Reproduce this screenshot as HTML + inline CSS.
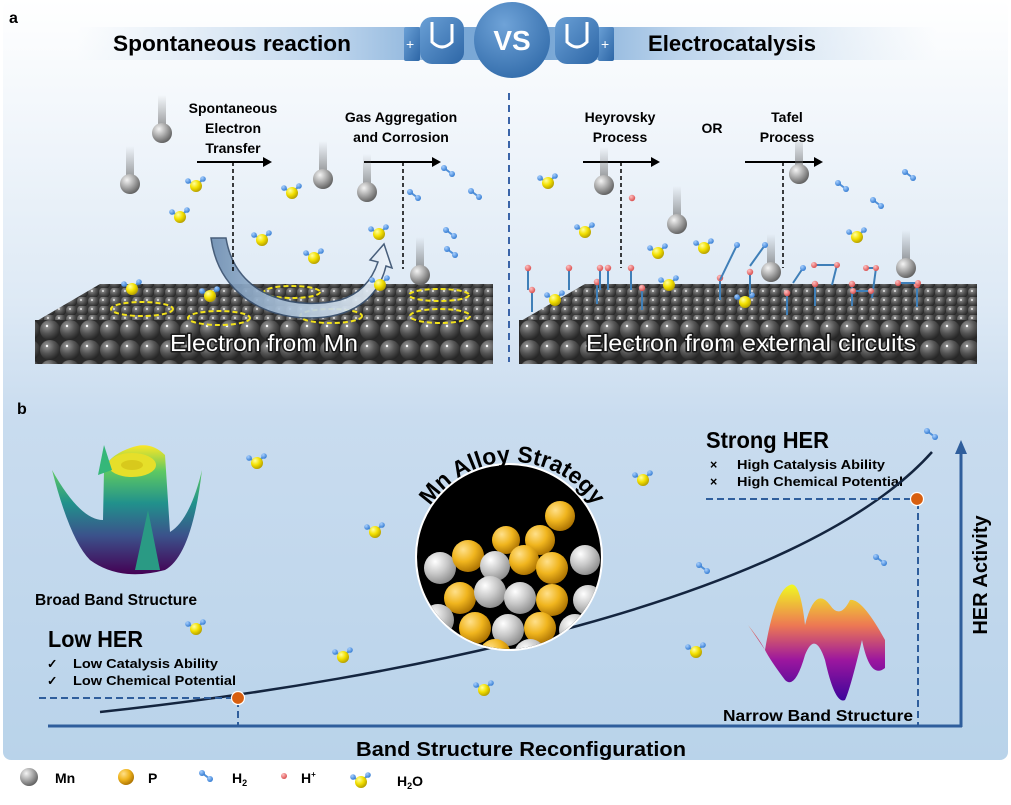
<!DOCTYPE html>
<html><head><meta charset="utf-8"><style>
html,body{margin:0;padding:0;background:#fff;}
svg{display:block;font-family:"Liberation Sans",sans-serif;}
</style></head><body>
<svg width="1011" height="805" viewBox="0 0 1011 805" xmlns="http://www.w3.org/2000/svg">
<defs>
<linearGradient id="bg" x1="0" y1="0" x2="0" y2="1">
<stop offset="0" stop-color="#ffffff"/><stop offset="0.4" stop-color="#dde9f5"/><stop offset="0.55" stop-color="#c9dcef"/><stop offset="1" stop-color="#b9d3ea"/>
</linearGradient>
<linearGradient id="bar" x1="0" y1="0" x2="1" y2="0">
<stop offset="0" stop-color="#cfe0f0" stop-opacity="0"/><stop offset="0.3" stop-color="#bcd4ec"/><stop offset="0.45" stop-color="#7aa8d6"/><stop offset="0.55" stop-color="#7aa8d6"/><stop offset="0.7" stop-color="#bcd4ec"/><stop offset="1" stop-color="#cfe0f0" stop-opacity="0"/>
</linearGradient>
<radialGradient id="vs" cx="0.4" cy="0.3" r="0.8"><stop offset="0" stop-color="#6fa3d8"/><stop offset="1" stop-color="#2f69a8"/></radialGradient>
<linearGradient id="glove" x1="0" y1="0" x2="1" y2="1"><stop offset="0" stop-color="#6aa0d6"/><stop offset="1" stop-color="#2d66a6"/></linearGradient>
<radialGradient id="mn" cx="0.35" cy="0.3" r="0.75"><stop offset="0" stop-color="#f4f4f4"/><stop offset="0.5" stop-color="#a9a9a9"/><stop offset="1" stop-color="#5c5c5c"/></radialGradient>
<radialGradient id="slab" cx="0.35" cy="0.3" r="0.75"><stop offset="0" stop-color="#9a9a9a"/><stop offset="0.5" stop-color="#555"/><stop offset="1" stop-color="#222"/></radialGradient>
<radialGradient id="p" cx="0.35" cy="0.3" r="0.75"><stop offset="0" stop-color="#ffffa0"/><stop offset="0.5" stop-color="#f3e000"/><stop offset="1" stop-color="#b09a00"/></radialGradient>
<radialGradient id="pg" cx="0.35" cy="0.3" r="0.75"><stop offset="0" stop-color="#ffe08a"/><stop offset="0.5" stop-color="#f0b51e"/><stop offset="1" stop-color="#a86f00"/></radialGradient>
<radialGradient id="gr" cx="0.35" cy="0.3" r="0.75"><stop offset="0" stop-color="#ffffff"/><stop offset="0.5" stop-color="#c9c9c9"/><stop offset="1" stop-color="#8a8a8a"/></radialGradient>
<radialGradient id="hb" cx="0.35" cy="0.3" r="0.75"><stop offset="0" stop-color="#a8d0ff"/><stop offset="1" stop-color="#2f78d0"/></radialGradient>
<radialGradient id="hr" cx="0.35" cy="0.3" r="0.75"><stop offset="0" stop-color="#ffc0c0"/><stop offset="1" stop-color="#d84a4a"/></radialGradient>
<linearGradient id="tail" x1="0" y1="0" x2="0" y2="1"><stop offset="0" stop-color="#777" stop-opacity="0"/><stop offset="1" stop-color="#666" stop-opacity="0.7"/></linearGradient>
<linearGradient id="bigarrow" x1="0" y1="0" x2="1" y2="0"><stop offset="0" stop-color="#6f8fb2"/><stop offset="0.5" stop-color="#b8cde2"/><stop offset="1" stop-color="#eef4fa"/></linearGradient>
<linearGradient id="vir" x1="0" y1="1" x2="0" y2="0"><stop offset="0" stop-color="#440154"/><stop offset="0.3" stop-color="#3b528b"/><stop offset="0.55" stop-color="#21918c"/><stop offset="0.8" stop-color="#5ec962"/><stop offset="1" stop-color="#fde725"/></linearGradient>
<linearGradient id="plas" x1="0" y1="1" x2="0" y2="0"><stop offset="0" stop-color="#3d049b"/><stop offset="0.35" stop-color="#9c179e"/><stop offset="0.65" stop-color="#ed7953"/><stop offset="1" stop-color="#f0f921"/></linearGradient>
<pattern id="top" width="11" height="9" patternUnits="userSpaceOnUse"><rect width="11" height="9" fill="#3a3a3a"/><circle cx="5.5" cy="4.5" r="5.6" fill="url(#slab)"/><circle cx="4" cy="3" r="0.9" fill="#fff"/></pattern>
<pattern id="front" width="20" height="20" patternUnits="userSpaceOnUse"><rect width="20" height="20" fill="#2a2a2a"/><circle cx="10" cy="10" r="10" fill="url(#slab)"/><circle cx="7" cy="6" r="1.2" fill="#fff"/></pattern>
<g id="h2o"><line x1="0" y1="0" x2="-8" y2="-5" stroke="#4f8fd8" stroke-width="2"/><line x1="0" y1="0" x2="7" y2="-7" stroke="#4f8fd8" stroke-width="2"/><circle cx="-8" cy="-5" r="2.8" fill="url(#hb)"/><circle cx="7" cy="-7" r="2.8" fill="url(#hb)"/><circle r="6" fill="url(#p)"/></g>
<g id="h2"><line x1="-4" y1="-3" x2="4" y2="3" stroke="#4f8fd8" stroke-width="2"/><circle cx="-4" cy="-3" r="3" fill="url(#hb)"/><circle cx="4" cy="3" r="3" fill="url(#hb)"/></g>
<g id="mnb"><rect x="-4" y="-38" width="8" height="34" fill="url(#tail)"/><circle r="10" fill="url(#mn)"/></g>
<g id="stick"><line x1="0" y1="0" x2="0" y2="-22" stroke="#3f7fb8" stroke-width="2"/><circle cx="0" cy="-22" r="3.2" fill="url(#hr)"/></g>
</defs>

<rect x="0" y="0" width="1011" height="805" fill="#fff"/>
<rect x="3" y="0" width="1005" height="760" rx="8" fill="url(#bg)"/>

<text x="9" y="23" font-size="16" font-weight="bold">a</text>
<rect x="77" y="27" width="860" height="33" fill="url(#bar)"/>
<text x="113" y="51" font-size="22" font-weight="bold" textLength="238" lengthAdjust="spacingAndGlyphs">Spontaneous reaction</text>
<text x="648" y="51" font-size="22" font-weight="bold" textLength="168" lengthAdjust="spacingAndGlyphs">Electrocatalysis</text>
<rect x="404" y="27" width="16" height="34" rx="2" fill="url(#glove)"/><text x="406" y="49" font-size="14" fill="#fff">+</text>
<rect x="420" y="17" width="44" height="47" rx="12" fill="url(#glove)"/>
<path d="M432 22 v20 q10 10 20 0 v-18" stroke="#fff" stroke-width="3" fill="none"/>
<rect x="598" y="27" width="16" height="34" rx="2" fill="url(#glove)"/><text x="601" y="49" font-size="14" fill="#fff">+</text>
<rect x="555" y="17" width="44" height="47" rx="12" fill="url(#glove)"/>
<path d="M567 24 v18 q10 10 20 0 v-20" stroke="#fff" stroke-width="3" fill="none"/>
<circle cx="512" cy="40" r="38" fill="url(#vs)"/>
<text x="512" y="50" font-size="28" font-weight="bold" fill="#fff" text-anchor="middle">VS</text>

<line x1="509" y1="93" x2="509" y2="362" stroke="#3a64a8" stroke-width="2" stroke-dasharray="7,5"/>

<polygon points="100,284 493,284 493,322 35,322" fill="url(#top)"/>
<rect x="35" y="320" width="458" height="44" fill="url(#front)"/>
<polygon points="585,284 977,284 977,322 519,322" fill="url(#top)"/>
<rect x="519" y="320" width="458" height="44" fill="url(#front)"/>

<g fill="none" stroke="#f2e21a" stroke-width="2" stroke-dasharray="5,3">
<ellipse cx="142" cy="309" rx="31" ry="7"/><ellipse cx="219" cy="318" rx="31" ry="7"/>
<ellipse cx="292" cy="292" rx="28" ry="6"/><ellipse cx="331" cy="316" rx="31" ry="7"/>
<ellipse cx="439" cy="295" rx="30" ry="6"/><ellipse cx="440" cy="316" rx="30" ry="7"/>
</g>

<path d="M211 238 L226 238 C236 300 300 310 340 300 C360 294 372 280 378 262 L370 260 L384 244 L392 268 L386 266 C378 300 350 318 310 318 C260 318 218 290 211 238 Z" fill="url(#bigarrow)" stroke="#3b5270" stroke-width="1.5" opacity="0.92"/>

<g font-size="14" font-weight="bold" text-anchor="middle">
<text x="233" y="113">Spontaneous</text><text x="233" y="133">Electron</text><text x="233" y="153">Transfer</text>
<text x="401" y="122">Gas Aggregation</text><text x="401" y="142">and Corrosion</text>
<text x="620" y="122">Heyrovsky</text><text x="620" y="142">Process</text>
<text x="712" y="133">OR</text>
<text x="787" y="122">Tafel</text><text x="787" y="142">Process</text>
</g>
<g stroke="#000" stroke-width="2">
<line x1="197" y1="162" x2="266" y2="162"/><line x1="364" y1="162" x2="435" y2="162"/>
<line x1="583" y1="162" x2="654" y2="162"/><line x1="745" y1="162" x2="817" y2="162"/>
</g>
<g fill="#000"><polygon points="272,162 263,157 263,167"/><polygon points="441,162 432,157 432,167"/><polygon points="660,162 651,157 651,167"/><polygon points="823,162 814,157 814,167"/></g>
<g stroke="#000" stroke-width="1.5" stroke-dasharray="4,3">
<line x1="233" y1="162" x2="233" y2="273"/><line x1="403" y1="162" x2="403" y2="269"/>
<line x1="621" y1="162" x2="621" y2="268"/><line x1="783" y1="162" x2="783" y2="268"/>
</g>

<use href="#mnb" x="130" y="184"/><use href="#mnb" x="162" y="133"/><use href="#mnb" x="323" y="179"/><use href="#mnb" x="367" y="192"/><use href="#mnb" x="420" y="275"/>
<use href="#mnb" x="604" y="185"/><use href="#mnb" x="677" y="224"/><use href="#mnb" x="799" y="174"/><use href="#mnb" x="771" y="272"/><use href="#mnb" x="906" y="268"/>
<use href="#h2o" x="196" y="186"/><use href="#h2o" x="180" y="217"/><use href="#h2o" x="292" y="193"/><use href="#h2o" x="262" y="240"/><use href="#h2o" x="314" y="258"/>
<use href="#h2o" x="379" y="234"/><use href="#h2o" x="132" y="289"/><use href="#h2o" x="210" y="296"/><use href="#h2o" x="380" y="285"/>
<use href="#h2o" x="548" y="183"/><use href="#h2o" x="585" y="232"/><use href="#h2o" x="658" y="253"/><use href="#h2o" x="704" y="248"/><use href="#h2o" x="857" y="237"/><use href="#h2o" x="669" y="285"/><use href="#h2o" x="745" y="302"/><use href="#h2o" x="555" y="300"/>
<use href="#h2" x="448" y="171"/><use href="#h2" x="475" y="194"/><use href="#h2" x="414" y="195"/><use href="#h2" x="450" y="233"/><use href="#h2" x="451" y="252"/><use href="#h2" x="842" y="186"/><use href="#h2" x="877" y="203"/><use href="#h2" x="909" y="175"/>
<circle cx="632" cy="198" r="3.2" fill="url(#hr)"/>
<use href="#stick" x="528" y="290"/><use href="#stick" x="569" y="290"/><use href="#stick" x="597" y="304"/><use href="#stick" x="608" y="290"/><use href="#stick" x="631" y="290"/>
<use href="#stick" x="642" y="310"/><use href="#stick" x="532" y="312"/><use href="#stick" x="600" y="290"/><use href="#stick" x="720" y="300"/><use href="#stick" x="750" y="294"/>
<use href="#stick" x="787" y="315"/><use href="#stick" x="852" y="306"/><use href="#stick" x="917" y="307"/><use href="#stick" x="815" y="306"/>
<g stroke="#3f7fb8" stroke-width="2" fill="none">
<line x1="720" y1="280" x2="737" y2="245"/><line x1="750" y1="266" x2="765" y2="245"/><line x1="793" y1="283" x2="803" y2="268"/>
<path d="M814 265 h23 l-5 20"/><path d="M866 268 h10 l-4 30"/><path d="M853 291 h18"/><path d="M918 283 h-20"/>
</g>
<g fill="url(#hr)"><circle cx="814" cy="265" r="3"/><circle cx="837" cy="265" r="3"/><circle cx="866" cy="268" r="3"/><circle cx="876" cy="268" r="3"/><circle cx="898" cy="283" r="3"/><circle cx="918" cy="283" r="3"/><circle cx="853" cy="291" r="3"/><circle cx="871" cy="291" r="3"/></g>
<g fill="url(#hb)"><circle cx="737" cy="245" r="3"/><circle cx="765" cy="245" r="3"/><circle cx="803" cy="268" r="3"/></g>

<g font-size="23" fill="#fff" stroke="#1a1a1a" stroke-width="3" paint-order="stroke" stroke-linejoin="round" text-anchor="middle">
<text x="264" y="351" textLength="188" lengthAdjust="spacingAndGlyphs">Electron from Mn</text>
<text x="751" y="351" textLength="330" lengthAdjust="spacingAndGlyphs">Electron from external circuits</text>
</g>

<text x="17" y="414" font-size="16" font-weight="bold">b</text>
<path d="M52 470 Q70 540 90 560 Q120 582 165 570 Q192 555 202 470 Q190 520 170 532 L165 455 Q150 440 130 448 Q108 456 104 470 L103 520 Q80 520 52 470 Z" fill="url(#vir)"/>
<ellipse cx="132" cy="465" rx="24" ry="12" fill="#e6df2a"/><ellipse cx="132" cy="465" rx="11" ry="5" fill="#d8c91c"/>
<polygon points="104,445 112,470 98,475" fill="#35b779"/><polygon points="148,510 160,570 135,570" fill="#2a9a84"/>
<text x="35" y="605" font-size="16" font-weight="bold" textLength="162" lengthAdjust="spacingAndGlyphs">Broad Band Structure</text>

<text x="48" y="647" font-size="23" font-weight="bold" textLength="95" lengthAdjust="spacingAndGlyphs">Low HER</text>
<g font-size="12.5" font-weight="bold"><text x="47" y="668">✓</text><text x="73" y="668" textLength="145" lengthAdjust="spacingAndGlyphs">Low Catalysis Ability</text>
<text x="47" y="685">✓</text><text x="73" y="685" textLength="163" lengthAdjust="spacingAndGlyphs">Low Chemical Potential</text></g>

<text x="706" y="448" font-size="23" font-weight="bold" textLength="123" lengthAdjust="spacingAndGlyphs">Strong HER</text>
<g font-size="12.5" font-weight="bold"><text x="710" y="469">×</text><text x="737" y="469" textLength="148" lengthAdjust="spacingAndGlyphs">High Catalysis Ability</text>
<text x="710" y="486">×</text><text x="737" y="486" textLength="166" lengthAdjust="spacingAndGlyphs">High Chemical Potential</text></g>

<line x1="48" y1="726" x2="962" y2="726" stroke="#2f5e9c" stroke-width="3"/>
<line x1="961" y1="727" x2="961" y2="450" stroke="#2f5e9c" stroke-width="3"/>
<polygon points="961,440 955,454 967,454" fill="#2f5e9c"/>
<path d="M100 712 C 400 680 800 600 932 452" stroke="#14253f" stroke-width="2.5" fill="none"/>
<g stroke="#2f5e9c" stroke-width="2" stroke-dasharray="7,4" fill="none">
<line x1="39" y1="698" x2="235" y2="698"/><line x1="238" y1="700" x2="238" y2="725"/>
<line x1="706" y1="499" x2="915" y2="499"/><line x1="918" y1="502" x2="918" y2="725"/>
</g>
<circle cx="238" cy="698" r="6.5" fill="#d85f10" stroke="#fff" stroke-width="1.2"/>
<circle cx="917" cy="499" r="6.5" fill="#d85f10" stroke="#fff" stroke-width="1.2"/>

<path d="M748 625 Q760 640 765 650 Q775 590 790 585 Q800 580 805 625 Q815 585 830 605 Q840 620 850 600 Q862 598 885 640 L885 668 Q870 680 862 640 Q850 690 845 700 Q835 705 825 660 Q815 630 805 655 Q795 690 785 680 Q770 660 765 650 Z" fill="url(#plas)"/>
<text x="818" y="721" font-size="16" font-weight="bold" text-anchor="middle" textLength="190" lengthAdjust="spacingAndGlyphs">Narrow Band Structure</text>

<clipPath id="cc"><circle cx="509" cy="557" r="92"/></clipPath>
<circle cx="509" cy="557" r="94" fill="#fff"/>
<g clip-path="url(#cc)">
<rect x="410" y="460" width="200" height="200" fill="#000"/>
<g>
<circle cx="560" cy="516" r="15" fill="url(#pg)"/><circle cx="540" cy="540" r="15" fill="url(#pg)"/><circle cx="506" cy="540" r="14" fill="url(#pg)"/>
<circle cx="440" cy="568" r="16" fill="url(#gr)"/><circle cx="468" cy="556" r="16" fill="url(#pg)"/><circle cx="495" cy="566" r="15" fill="url(#gr)"/>
<circle cx="524" cy="560" r="15" fill="url(#pg)"/><circle cx="552" cy="568" r="16" fill="url(#pg)"/><circle cx="585" cy="560" r="15" fill="url(#gr)"/>
<circle cx="460" cy="598" r="16" fill="url(#pg)"/><circle cx="490" cy="592" r="16" fill="url(#gr)"/><circle cx="520" cy="598" r="16" fill="url(#gr)"/>
<circle cx="552" cy="600" r="16" fill="url(#pg)"/><circle cx="588" cy="600" r="15" fill="url(#gr)"/><circle cx="438" cy="620" r="16" fill="url(#gr)"/>
<circle cx="475" cy="628" r="16" fill="url(#pg)"/><circle cx="508" cy="630" r="16" fill="url(#gr)"/><circle cx="540" cy="628" r="16" fill="url(#pg)"/>
<circle cx="575" cy="630" r="16" fill="url(#gr)"/><circle cx="455" cy="650" r="16" fill="url(#pg)"/><circle cx="495" cy="655" r="16" fill="url(#pg)"/>
<circle cx="530" cy="655" r="16" fill="url(#gr)"/><circle cx="565" cy="655" r="16" fill="url(#pg)"/>
</g>
</g>
<path id="arc" d="M414 560 A 98 98 0 0 1 610 560" fill="none"/>
<text font-size="23" font-weight="bold"><textPath href="#arc" startOffset="50%" text-anchor="middle">Mn Alloy Strategy</textPath></text>

<use href="#h2o" x="257" y="463"/><use href="#h2o" x="375" y="532"/><use href="#h2o" x="196" y="629"/><use href="#h2o" x="343" y="657"/>
<use href="#h2o" x="484" y="690"/><use href="#h2o" x="643" y="480"/><use href="#h2o" x="696" y="652"/>
<use href="#h2" x="931" y="434"/><use href="#h2" x="703" y="568"/><use href="#h2" x="880" y="560"/>

<text transform="translate(987,575) rotate(-90)" font-size="20" font-weight="bold" text-anchor="middle">HER Activity</text>
<text x="521" y="756" font-size="20" font-weight="bold" text-anchor="middle" textLength="330" lengthAdjust="spacingAndGlyphs">Band Structure Reconfiguration</text>

<circle cx="29" cy="777" r="9" fill="url(#mn)"/><text x="55" y="783" font-size="14" font-weight="bold">Mn</text>
<circle cx="126" cy="777" r="8" fill="url(#pg)"/><text x="148" y="783" font-size="14" font-weight="bold">P</text>
<use href="#h2" x="206" y="776"/><text x="232" y="783" font-size="14" font-weight="bold">H<tspan font-size="9" dy="3">2</tspan></text>
<circle cx="284" cy="776" r="3" fill="url(#hr)"/><text x="301" y="783" font-size="14" font-weight="bold">H<tspan font-size="8" dy="-6">+</tspan></text>
<use href="#h2o" x="361" y="782"/><text x="397" y="786" font-size="14" font-weight="bold">H<tspan font-size="9" dy="3">2</tspan><tspan dy="-3">O</tspan></text>
</svg>
</body></html>
